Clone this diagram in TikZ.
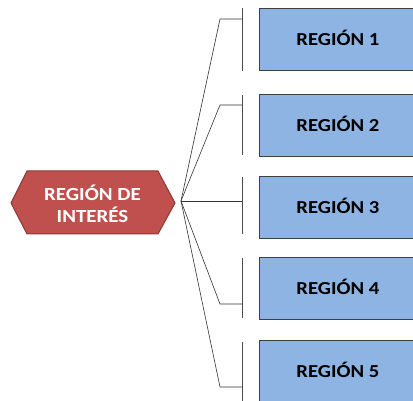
\documentclass[tikz,border=0pt]{standalone}
\usepackage{fontspec}
\setmainfont{Carlito}
\definecolor{hexfill}{HTML}{C0504D}
\definecolor{hexdraw}{HTML}{8C3836}
\definecolor{boxfill}{HTML}{8DB4E2}
\definecolor{boxdraw}{HTML}{3F3F3F}
\newcommand{\wide}[1]{\scalebox{1.13}[1]{#1}}
\tikzset{
  region/.style={draw=boxdraw, fill=boxfill, line width=0.8pt, minimum width=157pt, minimum height=62pt, inner sep=0pt, anchor=north west},
  lbl/.style={font=\fontsize{18.3}{21}\selectfont\bfseries, text=black, inner sep=0pt, text height=0.64em, text depth=0pt},
  hexlbl/.style={text=white, font=\fontsize{18.5}{21}\selectfont\bfseries, align=center, inner sep=0pt},
  conn/.style={draw=black!80, line width=0.6pt},
  bar/.style={draw=black!70, line width=0.8pt},
}
\begin{document}
\begin{tikzpicture}[x=1pt,y=-1pt]
\useasboundingbox (0,0) rectangle (413,401);
\fill[hexfill,draw=hexdraw,line width=1pt] (11,203) -- (27,171) -- (158,171) -- (175,203) -- (158,234) -- (27,234) -- cycle;
\node[hexlbl] (hex) at (92.5,204) {\wide{REGIÓN DE}\\[1pt]\wide{INTERÉS}};
\coordinate (tip) at (181,201);
\node[region] (r1) at (259,8) {};
\node[region] (r2) at (259,94) {};
\node[region] (r3) at (259,176) {};
\node[region] (r4) at (259,257) {};
\node[region] (r5) at (259,340) {};
\node[lbl] (t1) at ([yshift=-3pt]r1.center) {\wide{REGIÓN 1}};
\node[lbl] (t2) at ([yshift=-3pt]r2.center) {\wide{REGIÓN 2}};
\node[lbl] (t3) at ([yshift=-3pt]r3.center) {\wide{REGIÓN 3}};
\node[lbl] (t4) at ([yshift=-3pt]r4.center) {\wide{REGIÓN 4}};
\node[lbl] (t5) at ([yshift=-3pt]r5.center) {\wide{REGIÓN 5}};
% bars
\draw[bar] (242,8) -- (242,71);
\draw[bar] (242,95) -- (242,155);
\draw[bar] (242,177) -- (242,234);
\draw[bar] (242,258) -- (242,318);
\draw[bar] (242,342) -- (242,401);
\coordinate (s1) at (220,19);
\coordinate (s2) at (220,105);
\coordinate (s4) at (220,304);
\coordinate (s5) at (220,387);
\draw[conn] (tip) -- (s1) -- (242,19);
\draw[conn] (tip) -- (s2) -- (242,105);
\draw[conn] (tip) -- (242,201);
\draw[conn] (tip) -- (s4) -- (242,304);
\draw[conn] (tip) -- (s5) -- (242,387);
\end{tikzpicture}
\end{document}
